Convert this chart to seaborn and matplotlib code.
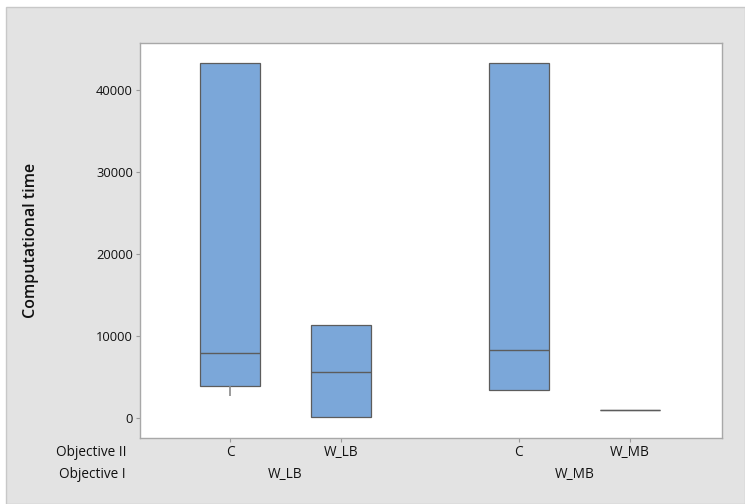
import numpy as np
import pandas as pd
import seaborn as sns
import matplotlib.pyplot as plt
import matplotlib.transforms as mtransforms
from matplotlib.patches import Rectangle

# Five-number summaries of computational time per (Objective I, Objective II) pair
objective_1 = ["W_LB", "W_LB", "W_MB", "W_MB"]
objective_2 = ["C", "W_LB", "C", "W_MB"]
t_min = [2680, 100, 3410, 1000]
t_q1 = [3900, 100, 3410, 1000]
t_median = [7930, 5610, 8290, 1000]
t_q3 = [43290, 11340, 43290, 1000]
t_max = [43290, 11340, 43290, 1000]

y_ticks = [0, 10000, 20000, 30000, 40000]

# Positions: boxes within a group one unit apart, extra gap between groups
group_gap = 1.6
positions = []
pos = 0.0
for i, g in enumerate(objective_1):
    if i > 0:
        pos += 1.0 if g == objective_1[i - 1] else group_gap
    positions.append(pos)

rows = []
for p, a, b, c, d, e in zip(positions, t_min, t_q1, t_median, t_q3, t_max):
    for v in (a, b, c, d, e):
        rows.append({"pos": p, "time": v})
df = pd.DataFrame(rows)

sns.set_theme(style="white")
plt.rcParams["font.family"] = ["Open Sans", "DejaVu Sans"]

fig = plt.figure(figsize=(7.45, 5.04), dpi=100)
fig.patch.set_facecolor("white")
W, H = 745, 504
fig.patches.append(Rectangle((6 / W, 0), 1 - 6 / W, 1 - 7 / H, transform=fig.transFigure,
                             facecolor="#e3e3e3", edgecolor="#c8c8c8", linewidth=1, zorder=-10))

ax = fig.add_axes([140 / W, 1 - 438 / H, 582 / W, 395 / H])
ax.set_facecolor("white")

sns.boxplot(data=df, x="pos", y="time", native_scale=True, width=0.54,
            whis=(0, 100), color="#7ba7d9", saturation=1, linecolor="#5c5c5c",
            linewidth=0.9, showcaps=False, ax=ax,
            whiskerprops={"color": "#8a8a8a", "linewidth": 1.2},
            medianprops={"color": "#5c5c5c", "linewidth": 1.0})

txt = "#111111"
ax.set_xlim(-0.81, positions[-1] + 0.83)
ax.set_ylim(-2440, 45730)
ax.set_yticks(y_ticks)
ax.set_yticklabels([str(v) for v in y_ticks], fontsize=9.3, color=txt)
ax.set_xticks(positions)
ax.set_xticklabels(objective_2, fontsize=9.8, color=txt)
ax.tick_params(axis="both", which="both", length=3, width=0.8, color="#9a9a9a",
               direction="out", left=True, bottom=True)
ax.tick_params(axis="y", pad=2)
ax.tick_params(axis="x", pad=2)

for s in ax.spines.values():
    s.set_color("#a8a8a8")
    s.set_linewidth(1.0)

ax.set_xlabel("")
ax.set_ylabel("Computational time", fontsize=11.5, fontweight="semibold", color=txt)
ax.yaxis.set_label_coords((39 - 140) / 582, 0.5)

# Row headers and Objective I group labels
fig.text(126 / W, 1 - 453 / H, "Objective II", fontsize=9.8, ha="right", va="center", color=txt)
fig.text(126 / W, 1 - 475 / H, "Objective I", fontsize=9.8, ha="right", va="center", color=txt)
blend = mtransforms.blended_transform_factory(ax.transData, fig.transFigure)
for g in dict.fromkeys(objective_1):
    xs = [p for p, o in zip(positions, objective_1) if o == g]
    ax.text(np.mean(xs), 1 - 475 / H, g, fontsize=9.8, ha="center", va="center",
            transform=blend, color=txt)

fig.savefig("out.png", dpi=100, facecolor=fig.get_facecolor())
